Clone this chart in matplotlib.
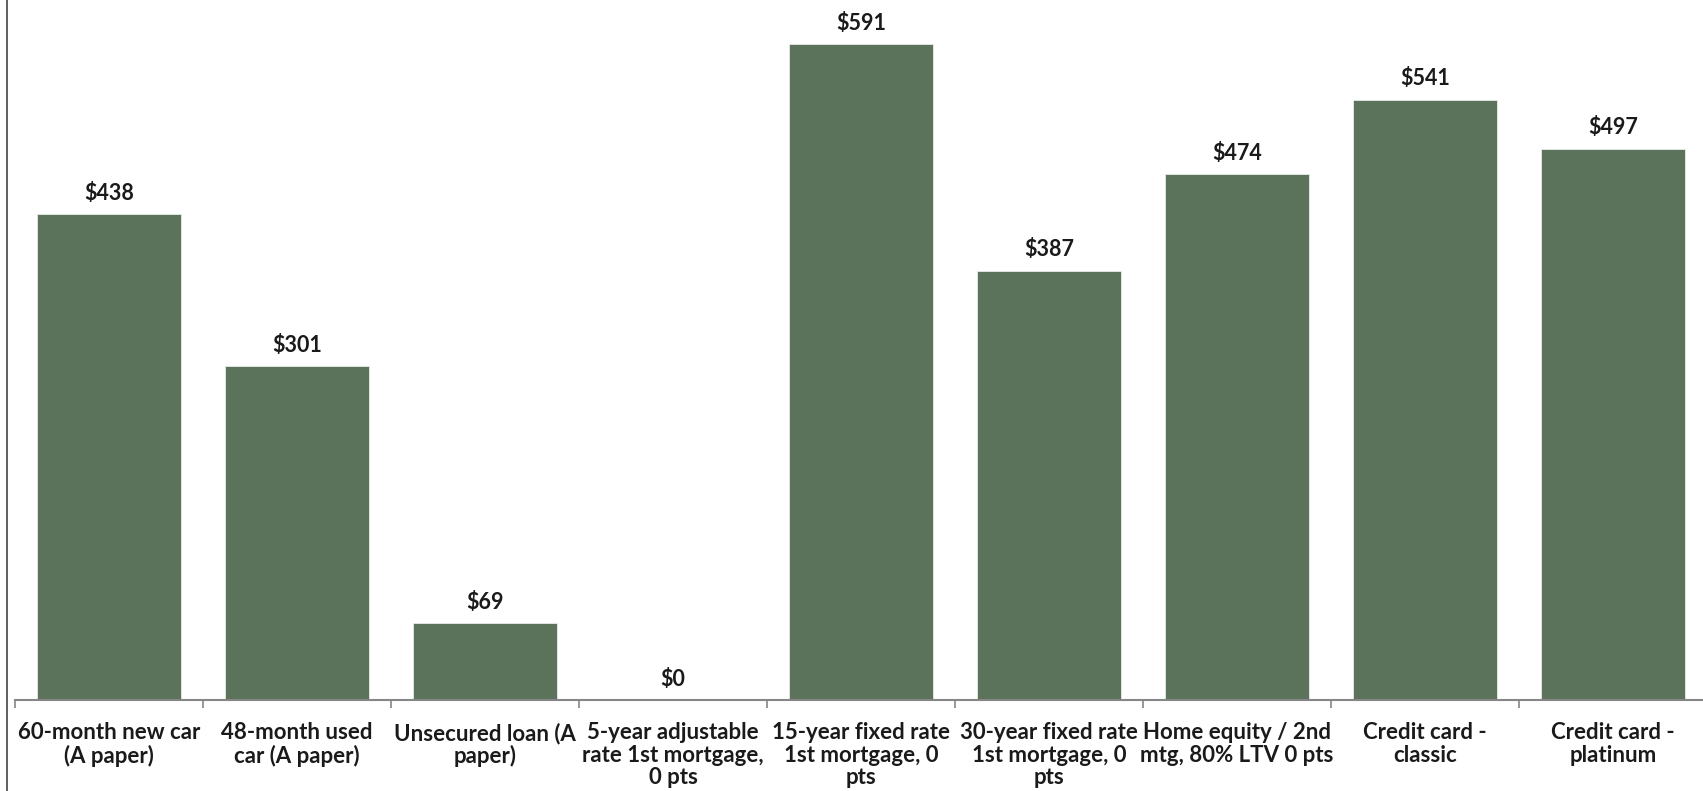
import numpy as np
import matplotlib.pyplot as plt
from matplotlib.lines import Line2D

plt.rcParams['font.family'] = ['Lato', 'DejaVu Sans']

# monthly savings per loan type
loan_labels = [
    "60-month new car\n(A paper)",
    "48-month used\ncar (A paper)",
    "Unsecured loan (A\npaper)",
    "5-year adjustable\nrate 1st mortgage,\n0 pts",
    "15-year fixed rate\n1st mortgage, 0\npts",
    "30-year fixed rate\n1st mortgage, 0\npts",
    "Home equity / 2nd\nmtg, 80% LTV 0 pts",
    "Credit card -\nclassic",
    "Credit card -\nplatinum",
]
savings = [438, 301, 69, 0, 591, 387, 474, 541, 497]

bar_color = "#5b735a"
axis_color = "#868686"

W, H = 1703, 791
fig = plt.figure(figsize=(W / 100, H / 100), dpi=100)
ax = fig.add_axes([15 / W, 91 / H, 1692 / W, 700 / H])

x = np.arange(len(savings))
ax.bar(x, savings, width=0.765, color=bar_color, edgecolor="#e8ece8", linewidth=0.6)

for xi, v in zip(x, savings):
    ax.annotate(f"${v}", (xi, v), xytext=(0, 7.5), textcoords="offset points",
                ha="center", va="bottom", fontsize=15.5, fontweight="bold", color="#1a1a1a")

ax.set_xlim(-0.5, len(savings) - 0.5)
ax.set_ylim(0, 631)

# labels at the centres, tick marks between categories
ax.set_xticks(x)
ax.set_xticklabels(loan_labels, fontsize=16, fontweight="bold", color="#1a1a1a",
                   linespacing=1.08)
ax.tick_params(axis="x", which="major", length=0, pad=16)
ax.set_xticks(np.arange(-0.5, len(savings), 1.0), minor=True)
ax.tick_params(axis="x", which="minor", length=6, width=1.2, color=axis_color)

ax.set_yticks([])
for side in ("top", "right", "left"):
    ax.spines[side].set_visible(False)
ax.spines["bottom"].set_color(axis_color)
ax.spines["bottom"].set_linewidth(1.5)

# left border line of the chart area
fig.add_artist(Line2D([7.5 / W, 7.5 / W], [0, 1], color="#444444", linewidth=1.2))

fig.savefig("out.png", dpi=100)
